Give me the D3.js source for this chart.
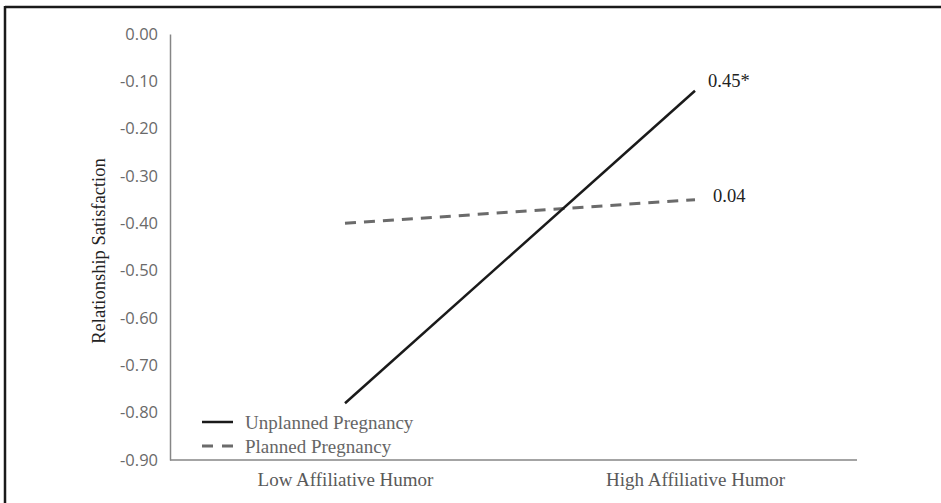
<!DOCTYPE html>
<html>
<head>
<meta charset="utf-8">
<script src="https://cdn.jsdelivr.net/npm/d3@7"></script>
<style>
  body { margin: 0; background: #fff; }
  svg { display: block; }
</style>
</head>
<body>
<div id="chart"></div>
<script>
// Data
var categories = ["Low Affiliative Humor", "High Affiliative Humor"];
var seriesNames = ["Unplanned Pregnancy", "Planned Pregnancy"];
var unplanned = [-0.78, -0.12];
var planned = [-0.40, -0.35];
var slopeLabels = ["0.45*", "0.04"];
var yTicks = [0, -0.1, -0.2, -0.3, -0.4, -0.5, -0.6, -0.7, -0.8, -0.9];

// Chart dimensions.
var width = 941, height = 503;
var plotLeft = 170, plotRight = 857, plotTop = 34, plotBottom = 460;
var serif = "'Liberation Serif', 'Times New Roman', serif";

var svg = d3.select("#chart").append("svg")
	.attr("width", width)
	.attr("height", height);

// frame (only top and left edge show in the original)
svg.append("line").attr("x1", 5).attr("x2", width).attr("y1", 7).attr("y2", 7)
	.attr("stroke", "#1a1a1a").attr("stroke-width", 2.5);
svg.append("line").attr("x1", 5).attr("x2", 5).attr("y1", 6).attr("y2", height)
	.attr("stroke", "#1a1a1a").attr("stroke-width", 2.5);

var xScale = d3.scalePoint().domain(categories).range([345, 695]);
var yScale = d3.scaleLinear().domain([-0.9, 0]).range([plotBottom, plotTop]);

// y axis, plain hyphen like the original instead of d3's minus sign
var fmt = d3.format(".2f");
var yAxis = d3.axisLeft(yScale)
	.tickValues(yTicks)
	.tickFormat(function(d) { return fmt(d).replace("\u2212", "-"); })
	.tickSize(0)
	.tickSizeOuter(0)
	.tickPadding(12);

var gy = svg.append("g")
	.attr("transform", "translate(" + plotLeft + ",0)")
	.call(yAxis);
gy.select(".domain").attr("stroke", "#868686").attr("stroke-width", 1.5);
gy.selectAll("text")
	.attr("fill", "#6a6a6a")
	.style("font-family", "'Open Sans', 'Liberation Sans', sans-serif")
	.style("font-size", "16.5px");

// x axis line + category labels
svg.append("line")
	.attr("x1", plotLeft).attr("x2", plotRight)
	.attr("y1", yScale(-0.9)).attr("y2", yScale(-0.9))
	.attr("stroke", "#868686").attr("stroke-width", 1.5);

var xAxis = d3.axisBottom(xScale).tickSize(0).tickPadding(13);
var gx = svg.append("g")
	.attr("transform", "translate(0," + plotBottom + ")")
	.call(xAxis);
gx.select(".domain").remove();
gx.selectAll("text")
	.attr("fill", "#595959")
	.style("font-family", serif)
	.style("font-size", "19px");

// y axis title
svg.append("text")
	.attr("transform", "translate(105," + ((plotTop + plotBottom) / 2 + 4) + ") rotate(-90)")
	.attr("text-anchor", "middle")
	.attr("fill", "#222")
	.style("font-family", serif)
	.style("font-size", "18.5px")
	.text("Relationship Satisfaction");

// the two lines
var line = d3.line()
	.x(function(d, i) { return xScale(categories[i]); })
	.y(function(d) { return yScale(d); });

svg.append("path")
	.datum(planned)
	.attr("d", line)
	.attr("fill", "none")
	.attr("stroke", "#6b6b6b")
	.attr("stroke-width", 3)
	.attr("stroke-dasharray", "11,8");

svg.append("path")
	.datum(unplanned)
	.attr("d", line)
	.attr("fill", "none")
	.attr("stroke", "#1a1a1a")
	.attr("stroke-width", 2.5);

// slope labels at the high end
var ends = [unplanned[1], planned[1]];
svg.selectAll(".slope")
	.data(slopeLabels)
	.enter().append("text")
	.attr("class", "slope")
	.attr("x", function(d, i) { return xScale(categories[1]) + (i == 0 ? 13 : 18); })
	.attr("y", function(d, i) { return yScale(ends[i]) + (i == 0 ? -4 : 2); })
	.attr("fill", "#222")
	.style("font-family", serif)
	.style("font-size", "18.5px")
	.text(function(d) { return d; });

// legend
var legend = svg.append("g").attr("transform", "translate(202,422)");
var legItems = legend.selectAll("g")
	.data(seriesNames)
	.enter().append("g")
	.attr("transform", function(d, i) { return "translate(0," + (i * 24) + ")"; });
legItems.append("line")
	.attr("x1", 0).attr("x2", 31)
	.attr("stroke", function(d, i) { return i == 0 ? "#1a1a1a" : "#6b6b6b"; })
	.attr("stroke-width", function(d, i) { return i == 0 ? 2.5 : 3; })
	.attr("stroke-dasharray", function(d, i) { return i == 0 ? null : "11,9"; });
legItems.append("text")
	.attr("x", 43)
	.attr("dy", "0.35em")
	.attr("fill", "#666")
	.style("font-family", serif)
	.style("font-size", "19px")
	.text(function(d) { return d; });
</script>
</body>
</html>
